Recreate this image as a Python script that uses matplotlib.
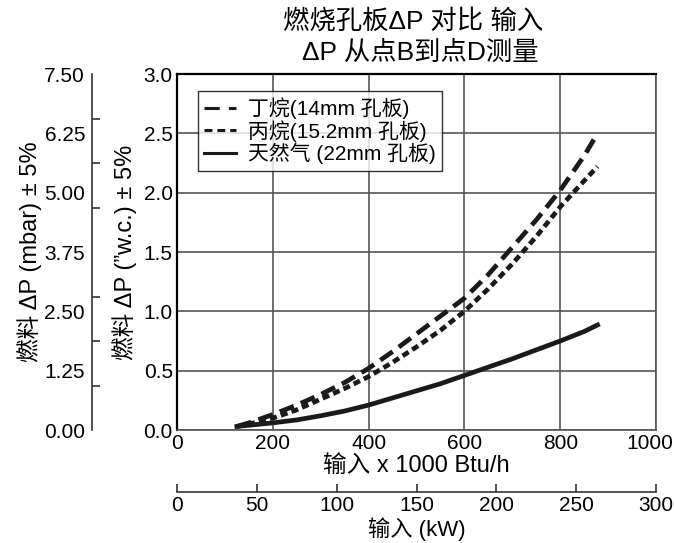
import matplotlib
matplotlib.use("Agg")
import matplotlib.pyplot as plt
from matplotlib.lines import Line2D
from matplotlib.transforms import ScaledTranslation

plt.rcParams['font.family'] = ['Liberation Sans', 'Noto Sans CJK SC']

# ---- data ----
input_kbtu = [125, 150, 200, 250, 300, 350, 400, 450, 500, 550, 600, 650, 700, 750, 800, 850, 878]
butane = [0.03, 0.06, 0.13, 0.21, 0.30, 0.40, 0.52, 0.66, 0.81, 0.96, 1.11, 1.31, 1.54, 1.77, 2.02, 2.31, 2.50]
propane = [0.03, 0.05, 0.10, 0.17, 0.26, 0.35, 0.45, 0.57, 0.70, 0.84, 1.00, 1.19, 1.40, 1.63, 1.88, 2.10, 2.22]
natgas = [0.03, 0.04, 0.06, 0.085, 0.12, 0.16, 0.21, 0.27, 0.33, 0.39, 0.46, 0.53, 0.60, 0.675, 0.75, 0.83, 0.885]
series_labels = ['丁烷(14mm 孔板)', '丙烷(15.2mm 孔板)', '天然气 (22mm 孔板)']

x_ticks = [0, 200, 400, 600, 800, 1000]
y_ticks = [0.0, 0.5, 1.0, 1.5, 2.0, 2.5, 3.0]
mbar_labels = [0.0, 1.25, 2.5, 3.75, 5.0, 6.25, 7.5]
mbar_marks = [0.0, 0.9375, 1.875, 2.8125, 3.75, 4.6875, 5.625, 6.5625, 7.5]
kw_ticks = [0, 50, 100, 150, 200, 250, 300]

title_lines = ['燃烧孔板ΔP 对比 输入', 'ΔP 从点B到点D测量']
xlabel = '输入 x 1000 Btu/h'
ylabel_wc = '燃料 ΔP (”w.c.) ± 5%'
ylabel_mbar = '燃料 ΔP (mbar) ± 5%'
xlabel_kw = '输入 (kW)'

W, H = 674, 543
fig = plt.figure(figsize=(W / 100, H / 100), dpi=100)
L, R, B, T = 177, 656, 430, 74
pos = [L / W, 1 - B / H, (R - L) / W, (B - T) / H]
TICK_FS = 15
LABEL_FS = 17

ax = fig.add_axes(pos)
ax.set_xlim(0, 1000)
ax.set_ylim(0, 3.0)
ax.set_xticks(x_ticks)
ax.set_yticks(y_ticks)
ax.set_yticklabels([f'{v:.1f}' for v in y_ticks])
ax.tick_params(axis='both', length=0, labelsize=TICK_FS, pad=3)
ax.grid(True, color='#555555', lw=1.2)
ax.set_axisbelow(True)
for s in ['right', 'bottom']:
    ax.spines[s].set_color('#555555')
    ax.spines[s].set_linewidth(1.2)
for s in ['left', 'top']:
    ax.spines[s].set_color('black')
    ax.spines[s].set_linewidth(1.6)

lw = 3.4
ax.plot(input_kbtu, butane, color='#1a1a1a', lw=lw, linestyle=(0, (3.2, 1.6)), dash_capstyle='butt')
ax.plot(input_kbtu, propane, color='#1a1a1a', lw=lw, linestyle=(0, (1.5, 0.9)), dash_capstyle='butt')
ax.plot(input_kbtu, natgas, color='#1a1a1a', lw=lw, linestyle='-')

handles = [
    Line2D([], [], color='#1a1a1a', lw=2.2, linestyle=(0, (5, 3))),
    Line2D([], [], color='#1a1a1a', lw=2.2, linestyle=(0, (2.6, 1.6))),
    Line2D([], [], color='#1a1a1a', lw=2.2, linestyle='-'),
]
leg = ax.legend(handles, series_labels, loc='upper left',
                bbox_to_anchor=((198 - L) / (R - L), 1 - (91 - T) / (B - T)),
                borderaxespad=0, fontsize=15, handlelength=1.5, handletextpad=0.6,
                labelspacing=0.05, borderpad=0.3, frameon=True, fancybox=False)
leg.get_frame().set_edgecolor('black')
leg.get_frame().set_linewidth(1.0)

ax.set_xlabel(xlabel, fontsize=LABEL_FS)
ax.xaxis.set_label_coords(0.5, (B - 466) / (B - T))
ax.xaxis.label.set_va('center')
ax.set_ylabel(ylabel_wc, fontsize=LABEL_FS)
ax.yaxis.set_label_coords((125 - L) / (R - L), 0.5)
ax.yaxis.label.set_va('center')

# shift the last x tick label slightly left (as in the reference)
lab = ax.get_xticklabels()[-1]
lab.set_transform(lab.get_transform() + ScaledTranslation(-0.06, 0, fig.dpi_scale_trans))

fig.text(413 / W, 1 - 21 / H, title_lines[0], fontsize=19, ha='center', va='center')
fig.text(420 / W, 1 - 53 / H, title_lines[1], fontsize=19, ha='center', va='center')

# outer mbar axis
ax2 = fig.add_axes(pos, frameon=True)
ax2.patch.set_visible(False)
for s in ['right', 'top', 'bottom']:
    ax2.spines[s].set_visible(False)
ax2.spines['left'].set_position(('axes', (92 - L) / (R - L)))
ax2.spines['left'].set_color('#333333')
ax2.spines['left'].set_linewidth(1.2)
ax2.set_xticks([])
ax2.set_ylim(0, 7.5)
ax2.set_yticks(mbar_labels)
ax2.set_yticklabels([f'{v:.2f}' for v in mbar_labels])
ax2.set_yticks(mbar_marks, minor=True)
ax2.tick_params(axis='y', which='major', length=0, labelsize=TICK_FS, pad=5)
ax2.tick_params(axis='y', which='minor', length=6, width=1.2, direction='in', color='#333333')
ax2.set_ylabel(ylabel_mbar, fontsize=LABEL_FS)
ax2.yaxis.set_label_coords((30 - L) / (R - L), 0.5)
ax2.yaxis.label.set_va('center')

# bottom kW axis
ax3 = fig.add_axes(pos, frameon=True)
ax3.patch.set_visible(False)
for s in ['right', 'top', 'left']:
    ax3.spines[s].set_visible(False)
ax3.spines['bottom'].set_position(('axes', (B - 492) / (B - T)))
ax3.spines['bottom'].set_color('#333333')
ax3.spines['bottom'].set_linewidth(1.2)
ax3.set_yticks([])
ax3.set_xlim(0, 300)
ax3.set_xticks(kw_ticks)
ax3.tick_params(axis='x', length=6, width=1.2, direction='in', color='#333333', labelsize=TICK_FS, pad=3)
ax3.set_xlabel(xlabel_kw, fontsize=16)
ax3.xaxis.set_label_coords(0.5, (B - 529) / (B - T))
ax3.xaxis.label.set_va('center')

fig.savefig('out.png', dpi=100)
